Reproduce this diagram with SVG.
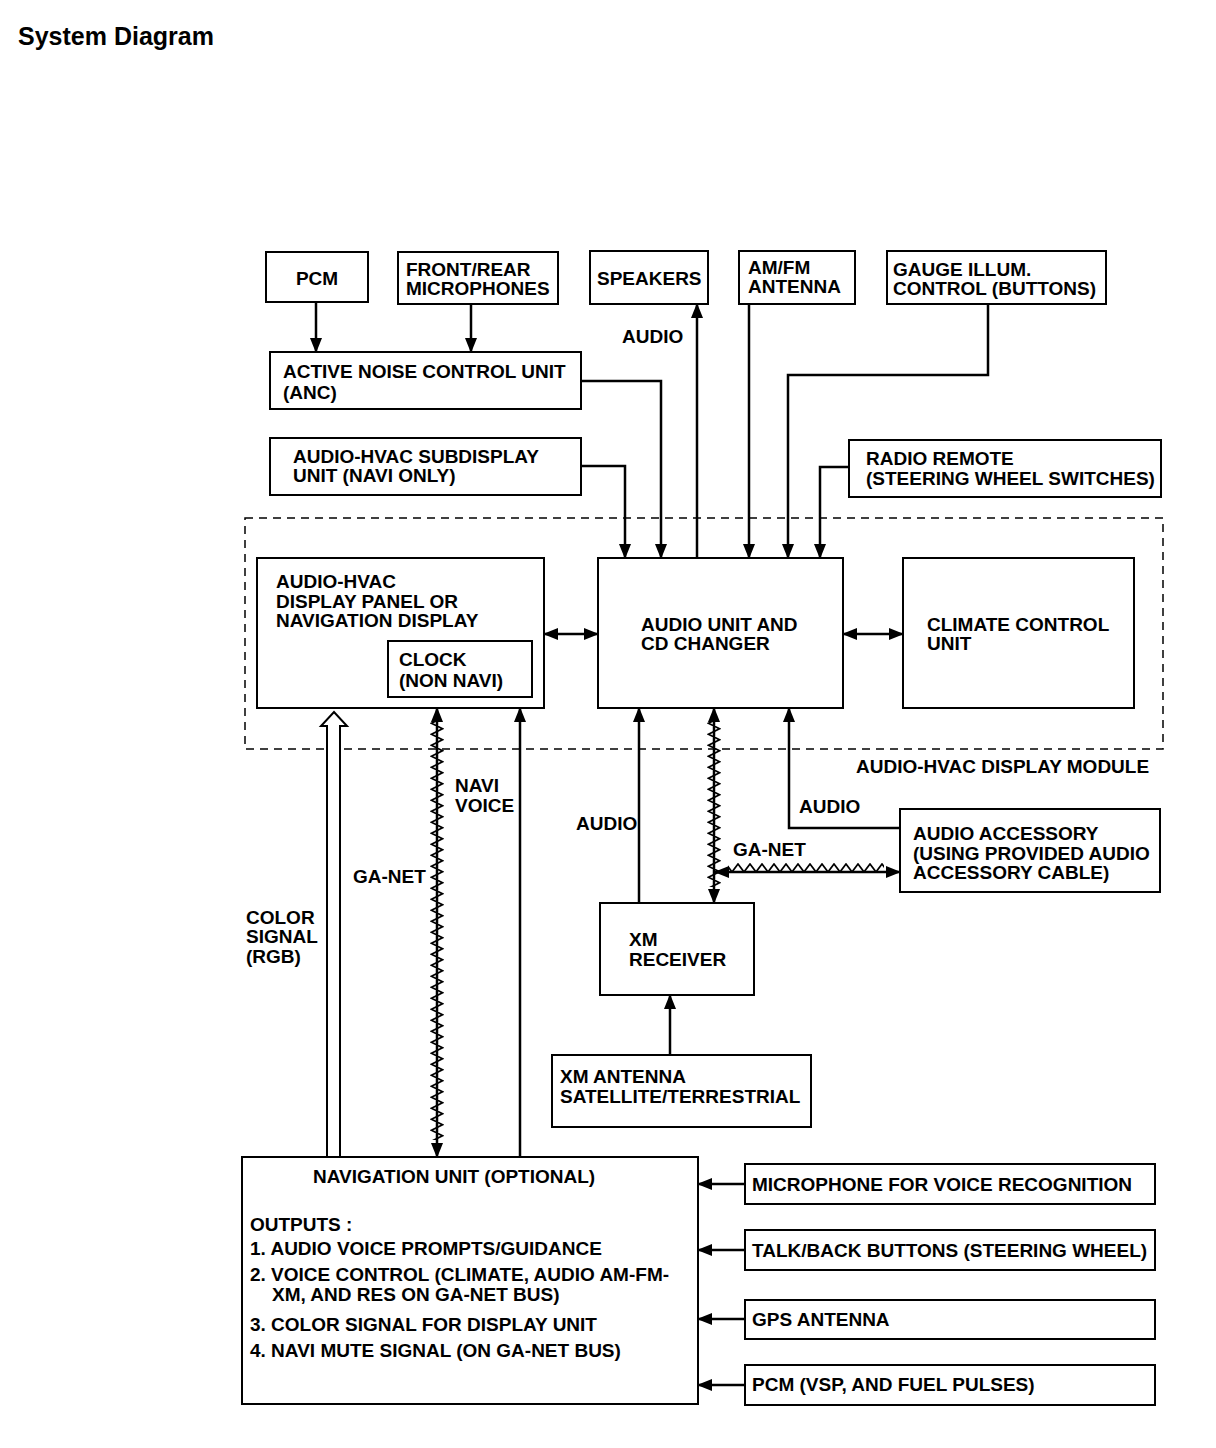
<svg xmlns="http://www.w3.org/2000/svg" width="1216" height="1448" viewBox="0 0 1216 1448">
<style>
text{font-family:"Liberation Sans",Arial,sans-serif;font-weight:bold;font-size:19px;fill:#000}
.box{fill:#fff;stroke:#000;stroke-width:2}
.ln{fill:none;stroke:#000;stroke-width:2.5}
.title{font-size:25px}
</style>
<defs>
<marker id="ah" markerUnits="userSpaceOnUse" markerWidth="15" markerHeight="12" refX="14" refY="6" orient="auto-start-reverse" viewBox="0 0 15 12">
<path d="M0,0 L15,6 L0,12 z" fill="#000"/>
</marker>
<pattern id="zzv" patternUnits="userSpaceOnUse" x="0" y="0" width="14" height="11">
<polyline points="7,0 12.5,2.75 1.5,8.25 7,11" fill="none" stroke="#000" stroke-width="1.7"/>
</pattern>
<pattern id="zzh" patternUnits="userSpaceOnUse" x="0" y="0" width="12" height="10">
<polyline points="0,9 6,1 12,9" fill="none" stroke="#000" stroke-width="1.7"/>
</pattern>
</defs>
<rect width="1216" height="1448" fill="#fff"/>
<text class="title" x="18" y="45">System Diagram</text>

<g id="module">
<rect x="245" y="518" width="918" height="231" fill="none" stroke="#000" stroke-width="1.5" stroke-dasharray="8,6"/>
<text x="856" y="773">AUDIO-HVAC DISPLAY MODULE</text>
</g>

<g id="connectors">
<path class="ln" d="M316,303 V352" marker-end="url(#ah)"/>
<path class="ln" d="M471,305 V352" marker-end="url(#ah)"/>
<path class="ln" d="M581,381 H661 V558" marker-end="url(#ah)"/>
<path class="ln" d="M581,466 H625 V558" marker-end="url(#ah)"/>
<path class="ln" d="M697,558 V304" marker-end="url(#ah)"/>
<path class="ln" d="M749,304 V558" marker-end="url(#ah)"/>
<path class="ln" d="M988,304 V375 H788 V558" marker-end="url(#ah)"/>
<path class="ln" d="M849,467 H820 V558" marker-end="url(#ah)"/>
<path class="ln" d="M544,634 H598" marker-start="url(#ah)" marker-end="url(#ah)"/>
<path class="ln" d="M843,634 H903" marker-start="url(#ah)" marker-end="url(#ah)"/>
<path d="M327,1157 V726 H321 L334,712 L347,726 H340 V1157" fill="#fff" stroke="#000" stroke-width="2"/>
<path class="ln" d="M437,1157 V708" marker-start="url(#ah)" marker-end="url(#ah)"/>
<g transform="translate(430,0)"><rect x="0" y="722" width="14" height="418" fill="url(#zzv)"/></g>
<path class="ln" d="M520,1157 V708" marker-end="url(#ah)"/>
<path class="ln" d="M639,903 V708" marker-end="url(#ah)"/>
<path class="ln" d="M714,903 V708" marker-start="url(#ah)" marker-end="url(#ah)"/>
<g transform="translate(707,0)"><rect x="0" y="722" width="14" height="165" fill="url(#zzv)"/></g>
<path class="ln" d="M715,872 H900" marker-start="url(#ah)" marker-end="url(#ah)"/>
<g transform="translate(0,863)"><rect x="728" y="0" width="156" height="10" fill="url(#zzh)"/></g>
<path class="ln" d="M900,828 H789 V708" marker-end="url(#ah)"/>
<path class="ln" d="M670,1055 V995" marker-end="url(#ah)"/>
<path class="ln" d="M745,1184 H698" marker-end="url(#ah)"/>
<path class="ln" d="M745,1250 H698" marker-end="url(#ah)"/>
<path class="ln" d="M745,1319 H698" marker-end="url(#ah)"/>
<path class="ln" d="M745,1385 H698" marker-end="url(#ah)"/>
<text x="622" y="343">AUDIO</text>
<text x="455" y="792">NAVI</text>
<text x="455" y="812">VOICE</text>
<text x="353" y="883">GA-NET</text>
<text x="246" y="924">COLOR</text>
<text x="246" y="943">SIGNAL</text>
<text x="246" y="963">(RGB)</text>
<text x="576" y="830">AUDIO</text>
<text x="733" y="856">GA-NET</text>
<text x="799" y="813">AUDIO</text>
</g>

<g id="pcm"><rect class="box" x="266" y="252" width="102" height="50"/><text x="317" y="285" text-anchor="middle">PCM</text></g>
<g id="mics"><rect class="box" x="398" y="252" width="160" height="52"/><text x="406" y="276">FRONT/REAR</text><text x="406" y="295">MICROPHONES</text></g>
<g id="speakers"><rect class="box" x="590" y="251" width="118" height="53"/><text x="597" y="285">SPEAKERS</text></g>
<g id="amfm"><rect class="box" x="739" y="251" width="116" height="53"/><text x="748" y="274">AM/FM</text><text x="748" y="293">ANTENNA</text></g>
<g id="gauge"><rect class="box" x="887" y="251" width="219" height="53"/><text x="893" y="276">GAUGE ILLUM.</text><text x="893" y="295">CONTROL (BUTTONS)</text></g>
<g id="anc"><rect class="box" x="270" y="352" width="311" height="57"/><text x="283" y="378">ACTIVE NOISE CONTROL UNIT</text><text x="283" y="399">(ANC)</text></g>
<g id="subdisplay"><rect class="box" x="270" y="438" width="311" height="57"/><text x="293" y="463">AUDIO-HVAC SUBDISPLAY</text><text x="293" y="482">UNIT (NAVI ONLY)</text></g>
<g id="radioremote"><rect class="box" x="849" y="440" width="312" height="57"/><text x="866" y="465">RADIO REMOTE</text><text x="866" y="485">(STEERING WHEEL SWITCHES)</text></g>
<g id="displaypanel"><rect class="box" x="257" y="558" width="287" height="150"/><text x="276" y="588">AUDIO-HVAC</text><text x="276" y="608">DISPLAY PANEL OR</text><text x="276" y="627">NAVIGATION DISPLAY</text></g>
<g id="clock"><rect class="box" x="388" y="641" width="144" height="56"/><text x="399" y="666">CLOCK</text><text x="399" y="687">(NON NAVI)</text></g>
<g id="audiounit"><rect class="box" x="598" y="558" width="245" height="150"/><text x="641" y="631">AUDIO UNIT AND</text><text x="641" y="650">CD CHANGER</text></g>
<g id="climate"><rect class="box" x="903" y="558" width="231" height="150"/><text x="927" y="631">CLIMATE CONTROL</text><text x="927" y="650">UNIT</text></g>
<g id="accessory"><rect class="box" x="900" y="809" width="260" height="83"/><text x="913" y="840">AUDIO ACCESSORY</text><text x="913" y="860">(USING PROVIDED AUDIO</text><text x="913" y="879">ACCESSORY CABLE)</text></g>
<g id="xmreceiver"><rect class="box" x="600" y="903" width="154" height="92"/><text x="629" y="946">XM</text><text x="629" y="966">RECEIVER</text></g>
<g id="xmantenna"><rect class="box" x="552" y="1055" width="259" height="72"/><text x="560" y="1083">XM ANTENNA</text><text x="560" y="1103">SATELLITE/TERRESTRIAL</text></g>
<g id="navunit"><rect class="box" x="242" y="1157" width="456" height="247"/>
<text x="313" y="1183">NAVIGATION UNIT (OPTIONAL)</text>
<text x="250" y="1231">OUTPUTS :</text>
<text x="250" y="1255">1. AUDIO VOICE PROMPTS/GUIDANCE</text>
<text x="250" y="1281">2. VOICE CONTROL (CLIMATE, AUDIO AM-FM-</text>
<text x="272" y="1301">XM, AND RES ON GA-NET BUS)</text>
<text x="250" y="1331">3. COLOR SIGNAL FOR DISPLAY UNIT</text>
<text x="250" y="1357">4. NAVI MUTE SIGNAL (ON GA-NET BUS)</text>
</g>
<g id="mic"><rect class="box" x="745" y="1164" width="410" height="40"/><text x="752" y="1191">MICROPHONE FOR VOICE RECOGNITION</text></g>
<g id="talkback"><rect class="box" x="745" y="1230" width="410" height="40"/><text x="752" y="1257">TALK/BACK BUTTONS (STEERING WHEEL)</text></g>
<g id="gps"><rect class="box" x="745" y="1300" width="410" height="39"/><text x="752" y="1326">GPS ANTENNA</text></g>
<g id="pcm2"><rect class="box" x="745" y="1365" width="410" height="40"/><text x="752" y="1391">PCM (VSP, AND FUEL PULSES)</text></g>
</svg>
